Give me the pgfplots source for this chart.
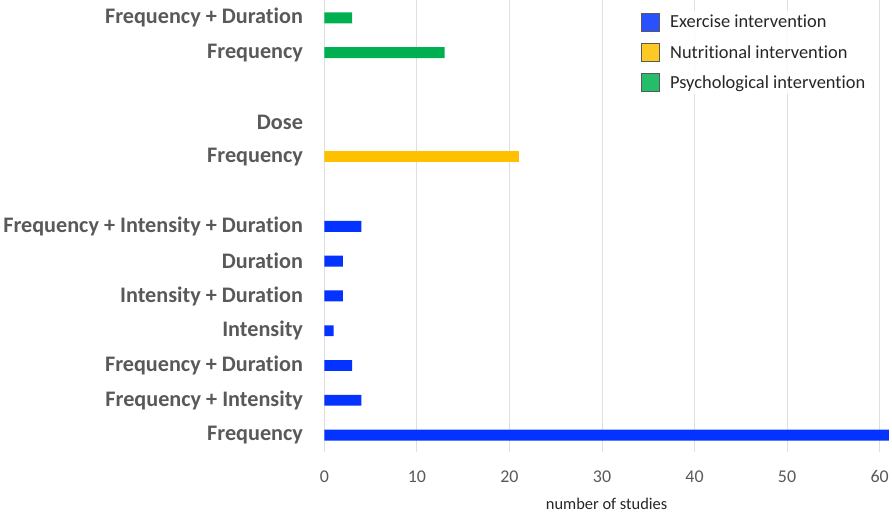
\documentclass[border=0pt]{standalone}
\usepackage{pgfplots}
\pgfplotsset{compat=1.18}
\usepackage{fontspec}
\setmainfont{Carlito}[Ligatures=NoCommon]
\definecolor{exer}{HTML}{0433FF}
\definecolor{nutr}{HTML}{FFC000}
\definecolor{psych}{HTML}{00B050}
\definecolor{lbl}{HTML}{595959}
\begin{document}
\begin{tikzpicture}
\begin{axis}[
  scale only axis,
  width=567pt, height=454pt,
  xmin=0, xmax=61,
  ymin=-0.5, ymax=12.5,
  xbar, bar width=11pt,
  axis line style={draw=none},
  major tick length=0pt,
  xtick={0,10,...,60},
  xmajorgrids, grid style={gray!25, line width=0.9pt},
  ytick={0,1,2,3,4,5,6,8,9,11,12},
  yticklabels={Frequency, Frequency + Intensity, Frequency + Duration, Intensity, Intensity + Duration, Duration, Frequency + Intensity + Duration, Frequency, Dose, Frequency, Frequency + Duration},
  yticklabel style={font=\fontsize{22.3}{25}\selectfont\bfseries, text=lbl, xshift=-18pt},
  xticklabel style={font=\fontsize{18}{21}\selectfont, text=lbl, yshift=-15pt},
  /pgf/number format/assume math mode=true,
  xlabel={number of studies},
  xlabel style={font=\fontsize{16.5}{19}\selectfont, text=black!85, yshift=-8pt},
  legend style={at={(0.555,0.977)}, anchor=north west, draw=none, fill=white, fill opacity=0.85, text opacity=1,
    font=\fontsize{18.5}{21}\selectfont, text=black!85, row sep=11.5pt, cells={anchor=west}},
  legend image code/.code={\draw[#1, draw=black!65, line width=0.8pt] (0pt,-9pt) rectangle (18pt,9pt); \path (27pt,0pt);},
]
\addplot[fill=exer, draw=none, bar shift=0pt] coordinates {
  (61,0) (4,1) (3,2) (1,3) (2,4) (2,5) (4,6)
};
\addlegendentry{Exercise intervention}
\addplot[fill=nutr, draw=none, bar shift=0pt] coordinates {
  (21,8)
};
\addlegendentry{Nutritional intervention}
\addplot[fill=psych, draw=none, bar shift=0pt] coordinates {
  (13,11) (3,12)
};
\addlegendentry{Psychological intervention}
\end{axis}
\end{tikzpicture}
\end{document}
